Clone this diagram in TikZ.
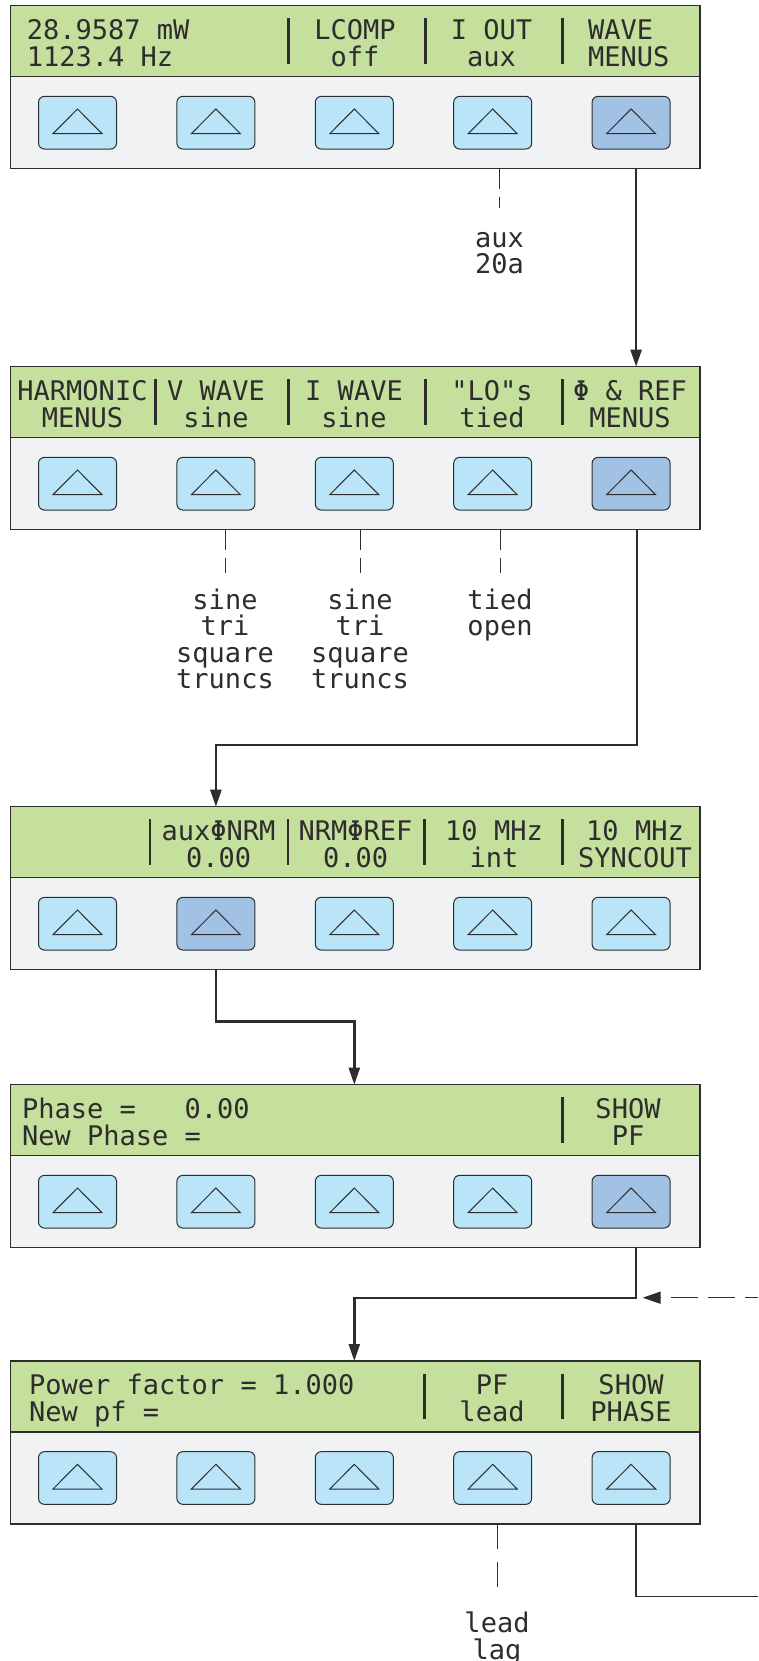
\documentclass[tikz,border=0pt]{standalone}
\usepackage{fontspec}
\newfontfamily\lcdfont{DejaVu Sans Mono}
\usepackage{tikz}
\usetikzlibrary{positioning, arrows.meta}

\definecolor{lcdgreen}{RGB}{197,223,157}
\definecolor{padgray}{RGB}{241,242,244}
\definecolor{keyblue}{RGB}{186,228,248}
\definecolor{keydark}{RGB}{161,194,228}
\definecolor{edge}{RGB}{45,45,45}

\tikzset{
    lcd/.style={draw=edge, line width=1.3pt, fill=lcdgreen, minimum width=689.4pt, minimum height=71pt, inner sep=0pt, outer sep=0pt},
    pad/.style={draw=edge, line width=1.3pt, fill=padgray, minimum width=689.4pt, minimum height=92pt, inner sep=0pt, outer sep=0pt},
    key/.style={draw=edge, line width=1pt, fill=keyblue, rounded corners=6pt, minimum width=78pt, minimum height=52.7pt, inner sep=0pt,
        path picture={\draw[edge, line width=1pt, sharp corners] ([xshift=-24.5pt, yshift=-11pt]path picture bounding box.center) -- ++(49pt,0pt) -- ++(-24.5pt,24.7pt) -- cycle;}},
    keyon/.style={key, fill=keydark},
    txt/.style={font=\lcdfont\fontsize{27}{26.5}\selectfont, text=edge, inner sep=0pt, align=center, text height=55.7pt, text depth=6pt},
    txtl/.style={txt, align=left, anchor=west},
    opt/.style={font=\lcdfont\fontsize{27}{26.5}\selectfont, text=edge, inner sep=0pt, align=center, anchor=north, text depth=6pt},
    bar/.style={edge, line width=2.8pt},
    flow/.style={draw=edge, line width=2.4pt, -{Triangle[length=17pt, width=11pt]}},
    back/.style={draw=edge, line width=1.5pt, dash pattern=on 27pt off 10pt, dash phase=14pt, -{Triangle[length=18pt, width=12pt]}},
    link/.style={draw=edge, line width=1.4pt},
    tick/.style={draw=edge, line width=0.9pt, dash pattern=on 20pt off 8.5pt}
}

\begin{document}
\begin{tikzpicture}[x=1pt, y=-1pt]
    \useasboundingbox (0,0) rectangle (758,1661);

    % Panel 1
    \node[lcd] (lcd1) at (355.3, 41.2) {};
    \node[pad, below=0pt of lcd1] (pad1) {};
    \node[txtl] (t11) at (26.6, 41.2) {28.9587 mW\\1123.4 Hz};
    \node[txt] (t13) at (355, 41.2) {LCOMP\\off};
    \node[txt] (t14) at (491.5, 41.2) {I OUT\\aux};
    \node[txtl] (t15) at (587.8, 41.2) {WAVE\\MENUS};
    \draw[bar] (288.8, 18.2) -- ++(0, 45.5);
    \draw[bar] (425.7, 18.2) -- ++(0, 45.5);
    \draw[bar] (562.2, 18.2) -- ++(0, 45.5);
    \node[key] (k11) at (77.5, 122.7) {};
    \node[key] (k12) at (215.9, 122.7) {};
    \node[key] (k13) at (354.3, 122.7) {};
    \node[key] (k14) at (492.7, 122.7) {};
    \node[keyon] (k15) at (631.1, 122.7) {};

    % Panel 2
    \node[lcd] (lcd2) at (355.3, 402.2) {};
    \node[pad, below=0pt of lcd2] (pad2) {};
    \node[txt] (t21) at (82.5, 402.2) {HARMONIC\\MENUS};
    \node[txt] (t22) at (216, 402.2) {V WAVE\\sine};
    \node[txt] (t23) at (354, 402.2) {I WAVE\\sine};
    \node[txt] (t24) at (492, 402.2) {"LO"s\\tied};
    \node[txt] (t25) at (630, 402.2) {Φ \& REF\\MENUS};
    \draw[bar] (155.8, 379.2) -- ++(0, 45.5);
    \draw[bar] (288.8, 379.2) -- ++(0, 45.5);
    \draw[bar] (425.7, 379.2) -- ++(0, 45.5);
    \draw[bar] (562.2, 379.2) -- ++(0, 45.5);
    \node[key] (k21) at (77.5, 483.7) {};
    \node[key] (k22) at (215.9, 483.7) {};
    \node[key] (k23) at (354.3, 483.7) {};
    \node[key] (k24) at (492.7, 483.7) {};
    \node[keyon] (k25) at (631.1, 483.7) {};

    % Panel 3
    \node[lcd] (lcd3) at (355.3, 842.2) {};
    \node[pad, below=0pt of lcd3] (pad3) {};
    \node[txt] (t32) at (218.6, 842.2) {auxΦNRM\\0.00};
    \node[txt] (t33) at (355.6, 842.2) {NRMΦREF\\0.00};
    \node[txt] (t34) at (494, 842.2) {10 MHz\\int};
    \node[txt] (t35) at (635, 842.2) {10 MHz\\SYNCOUT};
    \draw[bar] (150, 819.2) -- ++(0, 45.5);
    \draw[bar] (287.9, 819.2) -- ++(0, 45.5);
    \draw[bar] (424.8, 819.2) -- ++(0, 45.5);
    \draw[bar] (562.2, 819.2) -- ++(0, 45.5);
    \node[key] (k31) at (77.5, 923.7) {};
    \node[keyon] (k32) at (215.9, 923.7) {};
    \node[key] (k33) at (354.3, 923.7) {};
    \node[key] (k34) at (492.7, 923.7) {};
    \node[key] (k35) at (631.1, 923.7) {};

    % Panel 4
    \node[lcd] (lcd4) at (355.3, 1120.2) {};
    \node[pad, below=0pt of lcd4] (pad4) {};
    \node[txtl] (t41) at (21.8, 1120.2) {Phase =\ \ \ 0.00\\New Phase =};
    \node[txt] (t45) at (628, 1120.2) {SHOW\\PF};
    \draw[bar] (562.2, 1097.2) -- ++(0, 45.5);
    \node[key] (k41) at (77.5, 1201.7) {};
    \node[key] (k42) at (215.9, 1201.7) {};
    \node[key] (k43) at (354.3, 1201.7) {};
    \node[key] (k44) at (492.7, 1201.7) {};
    \node[keyon] (k45) at (631.1, 1201.7) {};

    % Panel 5
    \node[lcd] (lcd5) at (355.3, 1396.5) {};
    \node[pad, below=0pt of lcd5] (pad5) {};
    \node[txtl] (t51) at (29, 1396.5) {Power factor = 1.000\\New pf =};
    \node[txt] (t54) at (492, 1396.5) {PF\\lead};
    \node[txt] (t55) at (631, 1396.5) {SHOW\\PHASE};
    \draw[bar] (424.8, 1373.5) -- ++(0, 45.5);
    \draw[bar] (562.2, 1373.5) -- ++(0, 45.5);
    \node[key] (k51) at (77.5, 1478) {};
    \node[key] (k52) at (215.9, 1478) {};
    \node[key] (k53) at (354.3, 1478) {};
    \node[key] (k54) at (492.7, 1478) {};
    \node[key] (k55) at (631.1, 1478) {};

    % Choices under the keys
    \node[opt, text height=46.5pt] (aux) at (499.5, 226.9) {aux\\20a};
    \node[opt, text height=99.5pt] (vwave) at (225, 589.2) {sine\\tri\\square\\truncs};
    \node[opt, text height=99.5pt] (iwave) at (360, 589.2) {sine\\tri\\square\\truncs};
    \node[opt, text height=46.5pt] (lo) at (500, 589.2) {tied\\open};
    \node[opt, text height=46.5pt] (pf) at (497, 1612.6) {lead\\lag};
    \draw[tick] (aux.north |- pad1.south) -- ([yshift=19pt]aux.north);
    \draw[tick] (vwave.north |- pad2.south) -- ([yshift=16pt]vwave.north);
    \draw[tick] (iwave.north |- pad2.south) -- ([yshift=16pt]iwave.north);
    \draw[tick] (lo.north |- pad2.south) -- ([yshift=16pt]lo.north);
    \draw[tick, dash pattern=on 25pt off 13pt] (pf.north |- pad5.south) -- ([yshift=24.6pt]pf.north);

    % Flow between panels
    \coordinate (bend) at (636.1, 1297.7);
    \coordinate (ret) at (758, 1297.7);
    \coordinate (out) at (758, 1596.7);
    \draw[flow] ([xshift=5pt]k15 |- pad1.south) -- ([xshift=5pt]k15 |- lcd2.north);
    \draw[flow] ([xshift=6pt]k25 |- pad2.south) -- ++(0, 215.3) -| (k32 |- lcd3.north);
    \draw[flow] (k32 |- pad3.south) -- ++(0, 51.6) -| (k43 |- lcd4.north);
    \draw[flow] (bend |- pad4.south) -- (bend) -| (k53 |- lcd5.north);
    \draw[back] (ret) -- ([xshift=6.5pt]bend);
    \draw[link] ([xshift=5pt]k55 |- pad5.south) |- (out);

\end{tikzpicture}
\end{document}
